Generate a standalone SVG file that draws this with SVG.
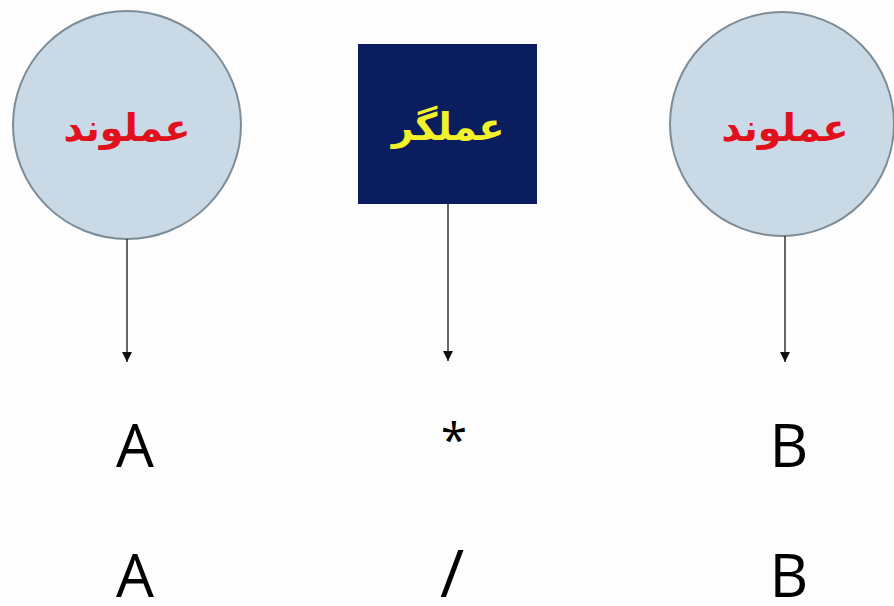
<svg xmlns="http://www.w3.org/2000/svg" width="894" height="606" viewBox="0 0 894 606">
<style>
.op{fill:#c9d9e6;stroke:#7d8c96;stroke-width:2}
.fa{font-family:"DejaVu Sans",sans-serif;font-weight:bold;font-size:38px;text-anchor:middle;direction:rtl}
.sym{font-family:"Open Sans","Liberation Sans",sans-serif;font-size:60px;fill:#000;text-anchor:middle}
.ln{stroke:#333;stroke-width:1.5;fill:none}
</style>
<defs>
<marker id="ah" viewBox="0 0 10 10" refX="10" refY="5" markerWidth="10" markerHeight="10" markerUnits="userSpaceOnUse" orient="auto">
<path d="M0,0 L10,5 L0,10 Z" fill="#111"/>
</marker>
</defs>
<rect width="894" height="606" fill="#fdfdfd"/>
<g id="operand-left">
<circle class="op" cx="127" cy="125" r="114"/>
<text class="fa" x="127" y="141" fill="#e0101c">عملوند</text>
</g>
<g id="operator">
<rect x="358" y="44" width="179" height="160" fill="#0a1d5e"/>
<text class="fa" x="448" y="140" fill="#f2f22a">عملگر</text>
</g>
<g id="operand-right">
<circle class="op" cx="782" cy="124" r="112"/>
<text class="fa" x="785" y="141" fill="#e0101c">عملوند</text>
</g>
<g id="connectors">
<line class="ln" x1="127" y1="239" x2="127" y2="362" marker-end="url(#ah)"/>
<line class="ln" x1="448" y1="204" x2="448" y2="361" marker-end="url(#ah)"/>
<line class="ln" x1="785" y1="236" x2="785" y2="362" marker-end="url(#ah)"/>
</g>
<g id="row1">
<text class="sym" x="135" y="467">A</text>
<text class="sym" x="454" y="457" style="font-size:48px">*</text>
<text class="sym" x="789" y="467">B</text>
</g>
<g id="row2">
<text class="sym" x="135" y="597">A</text>
<text class="sym" x="452" y="597" style="font-size:66px">/</text>
<text class="sym" x="789" y="597">B</text>
</g>
</svg>
